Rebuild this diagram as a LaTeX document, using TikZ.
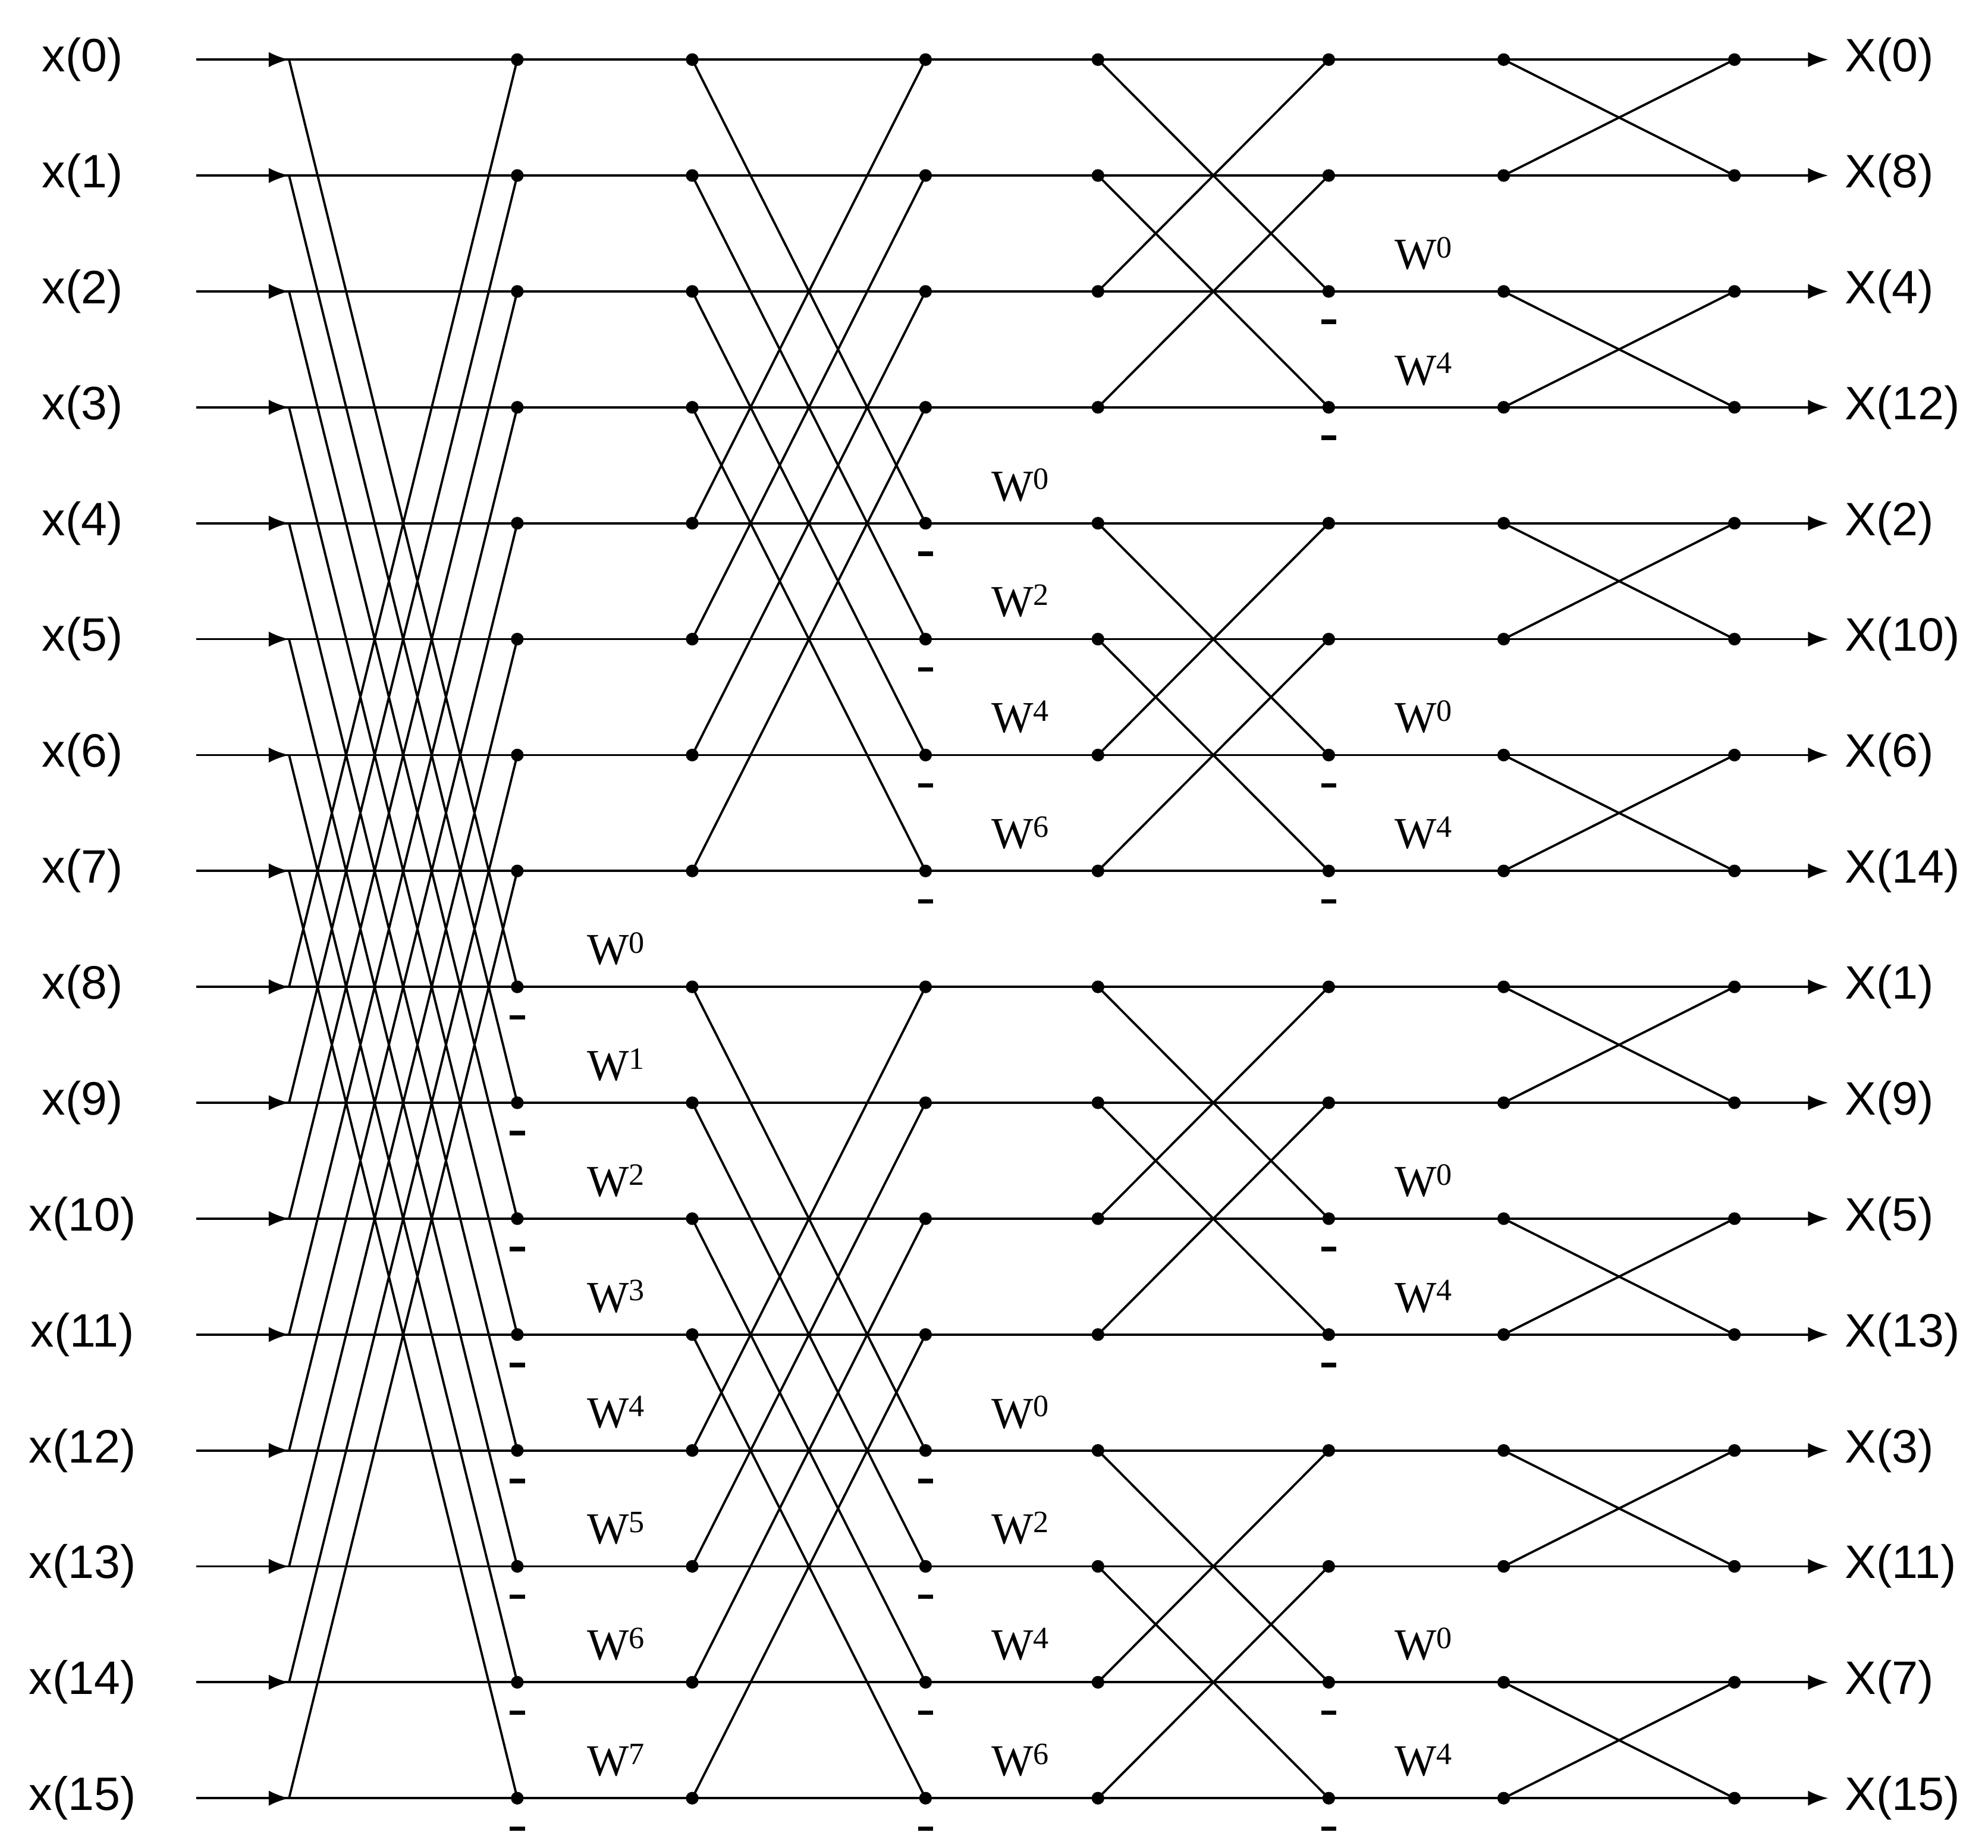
\documentclass[tikz,border=0pt]{standalone}
\usepackage{fontspec}
\setmainfont{Liberation Sans}
\newfontfamily\wfont{Liberation Serif}
\usetikzlibrary{arrows.meta,calc}
\begin{document}
\begin{tikzpicture}[x=1pt,y=-1pt,
  wire/.style={line width=1.8pt},
  dotp/.style={circle,fill=black,inner sep=0pt,minimum size=10pt},
  lab/.style={font=\fontsize{37}{39}\selectfont,inner sep=0pt},
  wlab/.style={font=\wfont\fontsize{35}{37}\selectfont,inner sep=0pt},
  neg/.style={line width=3.5pt}]
\useasboundingbox (0,0) rectangle (1568,1457);
\def\cols{{228,408,546,730,866,1048,1186,1368}}
\def\outidx{{0,8,4,12,2,10,6,14,1,9,5,13,3,11,7,15}}
% coordinates
\foreach \r in {0,...,15}{
  \pgfmathsetmacro{\yy}{47+\r*91.4}
  \coordinate (in\r) at (155,\yy);
  \coordinate (out\r) at (1442,\yy);
  \foreach \c in {0,...,7}{
    \pgfmathsetmacro{\xx}{\cols[\c]}
    \coordinate (n\c-\r) at (\xx,\yy);
  }
}
% horizontal wires
\foreach \r in {0,...,15}{
  \draw[wire] (in\r) -- (n7-\r);
  \draw[wire,-{Latex[length=16pt,width=12pt]}] (n0-\r) ++(-20,0) -- (n0-\r);
  \draw[wire,-{Latex[length=16pt,width=12pt]}] (n7-\r) -- (out\r);
  \node[lab,anchor=center] at (65,47+\r*91.4) {x(\r)};
  \pgfmathtruncatemacro{\oi}{\outidx[\r]}
  \node[lab,anchor=west] at (1455,47+\r*91.4) {X(\oi)};
  \foreach \c in {1,...,7}{\node[dotp] at (n\c-\r) {};}
}
% stage 1
\foreach \i in {0,...,7}{
  \pgfmathtruncatemacro{\j}{\i+8}
  \draw[wire] (n0-\i) -- (n1-\j);
  \draw[wire] (n0-\j) -- (n1-\i);
  \draw[neg] ($(n1-\j)+(-6,24)$) -- ++(12,0);
}
% stage 2
\foreach \g in {0,8}{\foreach \i in {0,...,3}{
  \pgfmathtruncatemacro{\a}{\g+\i}\pgfmathtruncatemacro{\b}{\g+\i+4}
  \draw[wire] (n2-\a) -- (n3-\b);
  \draw[wire] (n2-\b) -- (n3-\a);
  \draw[neg] ($(n3-\b)+(-6,24)$) -- ++(12,0);
  \pgfmathtruncatemacro{\k}{2*\i}
  \node[wlab] at ($(n3-\b)+(75,-30)$) {W\textsuperscript{\k}};
}}
% stage 3
\foreach \g in {0,4,8,12}{\foreach \i in {0,1}{
  \pgfmathtruncatemacro{\a}{\g+\i}\pgfmathtruncatemacro{\b}{\g+\i+2}
  \draw[wire] (n4-\a) -- (n5-\b);
  \draw[wire] (n4-\b) -- (n5-\a);
  \draw[neg] ($(n5-\b)+(-6,24)$) -- ++(12,0);
  \pgfmathtruncatemacro{\k}{4*\i}
  \node[wlab] at ($(n5-\b)+(75,-30)$) {W\textsuperscript{\k}};
}}
% stage 4
\foreach \g in {0,2,...,14}{
  \pgfmathtruncatemacro{\b}{\g+1}
  \draw[wire] (n6-\g) -- (n7-\b);
  \draw[wire] (n6-\b) -- (n7-\g);
}
% stage 1 twiddles
\foreach \i in {0,...,7}{
  \pgfmathtruncatemacro{\j}{\i+8}
  \node[wlab] at ($(n1-\j)+(78,-30)$) {W\textsuperscript{\i}};
}
\end{tikzpicture}
\end{document}
